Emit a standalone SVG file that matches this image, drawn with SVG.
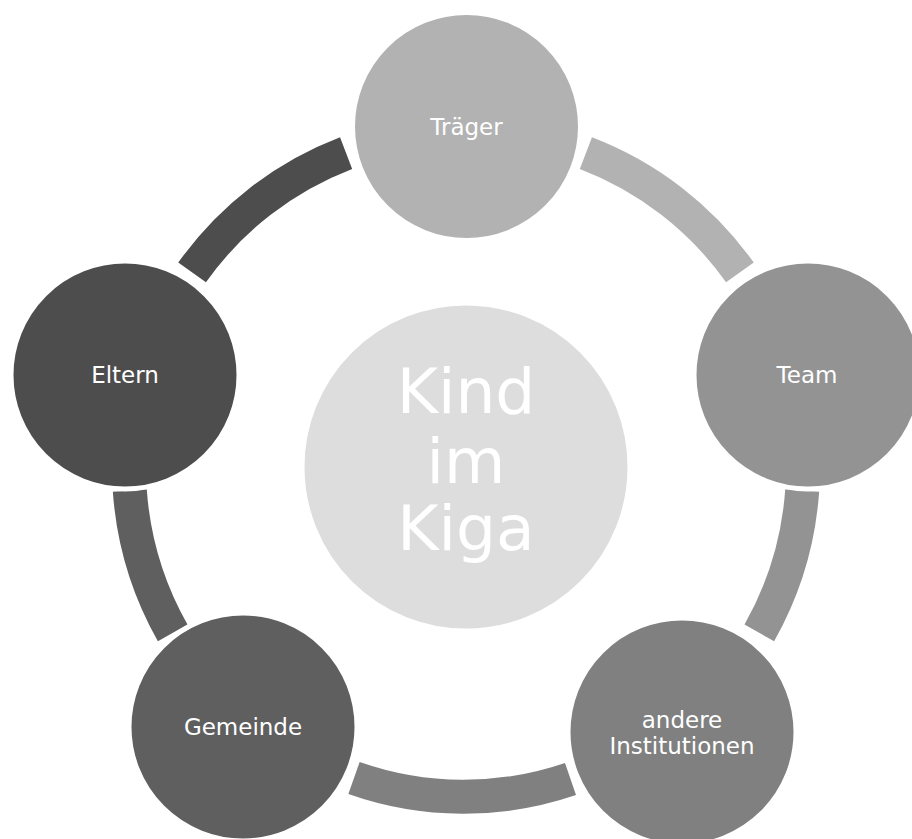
<svg xmlns="http://www.w3.org/2000/svg" width="912" height="839" viewBox="0 0 912 839">
  <style>
    .link { fill: none; stroke-width: 34; stroke-linecap: butt; }
    .node circle { stroke: #ffffff; stroke-width: 5; }
    .label { font-family: "DejaVu Sans", Verdana, sans-serif; font-size: 23px; fill: #ffffff; text-anchor: middle; }
    .hub { font-family: "DejaVu Sans", Verdana, sans-serif; font-size: 63px; fill: #ffffff; text-anchor: middle; }
  </style>

  <rect x="0" y="0" width="912" height="839" fill="#ffffff"/>

  <!-- ring segments between neighbouring nodes -->
  <g id="connectors">
    <path class="link" stroke="#b2b2b2" d="M 585.9 153.1 A 336 336 0 0 1 739.9 272.4"/>
    <path class="link" stroke="#939393" d="M 802.2 490.5 A 337 337 0 0 1 759.3 632.9"/>
    <path class="link" stroke="#808080" d="M 570.5 779 A 330 330 0 0 1 354 778"/>
    <path class="link" stroke="#5f5f5f" d="M 172.7 632.9 A 337 337 0 0 1 129.8 490.5"/>
    <path class="link" stroke="#4d4d4d" d="M 192.1 272.4 A 336 336 0 0 1 346.1 153.1"/>
  </g>

  <g id="node-center" class="node">
    <circle cx="466" cy="467" r="164" fill="#dddddd"/>
    <text class="hub" x="466" y="413">Kind</text>
    <text class="hub" x="466" y="483">im</text>
    <text class="hub" x="466" y="550">Kiga</text>
  </g>

  <g id="node-traeger" class="node">
    <circle cx="466.5" cy="126.5" r="114" fill="#b2b2b2"/>
    <text class="label" x="466.5" y="135">Träger</text>
  </g>

  <g id="node-team" class="node">
    <circle cx="808" cy="375" r="114" fill="#939393"/>
    <text class="label" x="807" y="383">Team</text>
  </g>

  <g id="node-institutionen" class="node">
    <circle cx="682" cy="732" r="114" fill="#808080"/>
    <text class="label" x="682" y="728">andere</text>
    <text class="label" x="682" y="753.5">Institutionen</text>
  </g>

  <g id="node-gemeinde" class="node">
    <circle cx="243" cy="727" r="114" fill="#5f5f5f"/>
    <text class="label" x="243" y="734.5">Gemeinde</text>
  </g>

  <g id="node-eltern" class="node">
    <circle cx="125" cy="375" r="114" fill="#4d4d4d"/>
    <text class="label" x="125" y="383">Eltern</text>
  </g>
</svg>
